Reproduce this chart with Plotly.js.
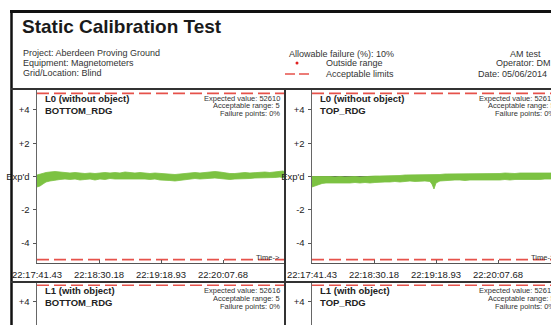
<!DOCTYPE html>
<html>
<head>
<meta charset="utf-8">
<script src="https://cdn.plot.ly/plotly-3.0.1.min.js"></script>
<style>
html,body{margin:0;padding:0;background:#fff;overflow:hidden;}
#chart{width:551px;height:325px;}
</style>
</head>
<body>
<div id="chart"></div>
<script>
// ---------------- DATA ----------------
const timeTicks  = [0, 48.75, 97.5, 146.25, 195];
const timeLabels = ['22:17:41.43','22:18:30.18','22:19:18.93','22:20:07.68','22:20:56.43'];
const yTickVals  = [4, 2, 0, -2, -4];
const yTickText  = ['+4', '+2', "Exp'd", '-2', '-4'];
const acceptableRange = 5;

// L0 BOTTOM_RDG (deviation from expected value, band envelope)
const timeBottom = [0,2.4,4.7,7.1,10.2,14.2,18.1,22,25.9,29.9,33.8,37.7,41.7,45.6,49.5,53.4,57.4,61.3,65.2,69.2,73.1,77,81,84.9,88.8,92.7,96.7,100.6,104.5,108.5,112.4,116.3,120.3,124.2,128.1,132,136,139.9,143.8,147.8,151.7,155.6,159.6,163.5,167.4,171.3,175.3,179.2,183.1,187.1,191,193.4,195];
const bottomHigh = [0.09,0.15,0.21,0.24,0.27,0.30,0.27,0.24,0.21,0.24,0.21,0.18,0.21,0.18,0.21,0.24,0.21,0.24,0.21,0.27,0.24,0.21,0.24,0.21,0.18,0.21,0.18,0.15,0.15,0.12,0.15,0.18,0.21,0.24,0.21,0.24,0.27,0.30,0.27,0.21,0.18,0.18,0.21,0.24,0.21,0.24,0.24,0.27,0.24,0.27,0.33,0.33,0.27];
const bottomLow  = [-0.63,-0.57,-0.45,-0.33,-0.27,-0.21,-0.18,-0.15,-0.18,-0.15,-0.21,-0.18,-0.15,-0.21,-0.15,-0.18,-0.12,-0.15,-0.15,-0.12,-0.15,-0.12,-0.15,-0.15,-0.18,-0.15,-0.21,-0.21,-0.24,-0.27,-0.24,-0.18,-0.15,-0.12,-0.15,-0.12,-0.09,-0.09,-0.12,-0.15,-0.18,-0.15,-0.15,-0.12,-0.12,-0.09,-0.09,-0.09,-0.09,-0.06,-0.03,-0.06,-0.09];

// L0 TOP_RDG
const timeTop = [0,2.4,4.7,7.9,11,14.1,18.1,22,25.9,29.9,33.8,37.7,41.7,45.6,49.5,53.4,57.4,61.3,65.2,69.2,73.1,77,81,84.9,88.8,92.7,94.3,95.9,97.5,100.6,104.5,108.5,112.4,116.3,120.3,124.2,128.1,132,136,139.9,143.8,147.8,151.7,155.6,159.6,163.5,167.4,171.3,175.3,179.2,183.1,187.1,191,195];
const topHigh = [0,0,0.03,0.03,0,0,-0.03,0,-0.03,0,0,-0.03,0,0,0.03,0.03,0.03,0.06,0.06,0.06,0.09,0.09,0.12,0.12,0.12,0.12,0.09,0.09,0.09,0.12,0.15,0.15,0.18,0.18,0.15,0.18,0.18,0.18,0.15,0.15,0.18,0.18,0.21,0.18,0.18,0.21,0.21,0.18,0.18,0.21,0.21,0.21,0.21,0.21];
const topLow  = [-0.63,-0.57,-0.48,-0.42,-0.39,-0.39,-0.42,-0.39,-0.42,-0.39,-0.36,-0.39,-0.36,-0.39,-0.36,-0.33,-0.33,-0.33,-0.30,-0.33,-0.30,-0.27,-0.30,-0.27,-0.27,-0.30,-0.45,-0.75,-0.39,-0.27,-0.24,-0.24,-0.21,-0.21,-0.24,-0.21,-0.21,-0.21,-0.24,-0.24,-0.21,-0.21,-0.18,-0.21,-0.18,-0.18,-0.18,-0.21,-0.18,-0.18,-0.15,-0.15,-0.15,-0.15];

// ---------------- LAYOUT HELPERS ----------------
const W = 551, H = 325;
const px = x => x / W;
const py = y => 1 - y / H;
const FONT = 'Liberation Sans, Arial, sans-serif';
const GREEN = '#7cc242';
const RED = '#e6524b';
const tEnd = timeTicks[timeTicks.length - 1];

function bandTraces(t, lo, hi, xa, ya) {
  return [
    {x: [t[0], tEnd], y: [0, 0], xaxis: xa, yaxis: ya, mode: 'lines',
     line: {color: '#555', width: 1}, hoverinfo: 'skip', showlegend: false},
    {x: t, y: lo, xaxis: xa, yaxis: ya, mode: 'lines',
     line: {color: GREEN, width: 0.8}, hoverinfo: 'skip', showlegend: false},
    {x: t, y: hi, xaxis: xa, yaxis: ya, mode: 'lines', fill: 'tonexty',
     fillcolor: GREEN, line: {color: GREEN, width: 0.8}, hoverinfo: 'skip', showlegend: false}
  ];
}
function limitTraces(xa, ya) {
  return [acceptableRange, -acceptableRange].map(v => ({
    x: [timeTicks[0], tEnd], y: [v, v], xaxis: xa, yaxis: ya, mode: 'lines',
    line: {color: RED, width: 1.6, dash: '12px,5px'}, hoverinfo: 'skip', showlegend: false
  }));
}

const data = [
  ...bandTraces(timeBottom, bottomLow, bottomHigh, 'x', 'y'),
  ...limitTraces('x', 'y'),
  ...bandTraces(timeTop, topLow, topHigh, 'x2', 'y2'),
  ...limitTraces('x2', 'y2'),
  ...limitTraces('x3', 'y3'),
  ...limitTraces('x4', 'y4')
];

function xAxis(dom, anchor, range, show) {
  return {domain: dom, anchor: anchor, range: range, showgrid: false, zeroline: false,
    showline: show, linecolor: '#555', linewidth: 1,
    tickmode: 'array', tickvals: show ? timeTicks.slice(0, 4) : [], ticktext: show ? timeLabels.slice(0, 4) : [],
    ticks: show ? 'inside' : '', ticklen: 3, tickcolor: '#555', ticklabelstandoff: 3,
    showticklabels: show, tickfont: {family: FONT, size: 9.5, color: '#222'}, fixedrange: true};
}
function yAxis(dom, anchor, range) {
  return {domain: dom, anchor: anchor, range: range, showgrid: false, zeroline: false,
    showline: true, linecolor: '#666', linewidth: 1.5,
    tickmode: 'array', tickvals: yTickVals, ticktext: yTickText,
    ticks: 'outside', ticklen: 3, tickcolor: '#555', ticklabelstandoff: 1,
    tickfont: {family: FONT, size: 9.5, color: '#222'}, fixedrange: true};
}
const unitPx = 16.6;
const rightEnd = (W - 312) / 248 * tEnd;
const botLow = 5.2 - (H - 282) / unitPx;

function ann(text, x, y, opts) {
  return Object.assign({text: text, x: px(x), y: py(y), xref: 'paper', yref: 'paper',
    showarrow: false, xanchor: 'left', yanchor: 'middle',
    font: {family: FONT, size: 9, color: '#222'}}, opts || {});
}
const small = {family: FONT, size: 7.5, color: '#333'};
function panelAnns(L, T, level, reading, expected) {
  return [
    ann(level, L + 6, T + 8, {font: {family: FONT, size: 9.5, color: '#222', weight: 'bold'}}),
    ann(reading, L + 6, T + 20, {font: {family: FONT, size: 9.5, color: '#222', weight: 'bold'}}),
    ann('Expected value: ' + expected, L + 245, T + 8, {xanchor: 'right', font: small}),
    ann('Acceptable range: ' + acceptableRange, L + 245, T + 16, {xanchor: 'right', font: small}),
    ann('Failure points: 0%', L + 245, T + 24, {xanchor: 'right', font: small})
  ];
}
const info = {family: FONT, size: 9, color: '#333'};

const annotations = [
  ann('Static Calibration Test', 20, 27, {font: {family: FONT, size: 19, color: '#1a1a1a', weight: 'bold'}}),
  ann('Project: Aberdeen Proving Ground', 21, 53, {font: info}),
  ann('Equipment: Magnetometers', 21, 63, {font: info}),
  ann('Grid/Location: Blind', 21, 73, {font: info}),
  ann('Allowable failure (%): 10%', 287, 54, {font: info}),
  ann('Outside range', 324, 63, {font: info}),
  ann('Acceptable limits', 324, 74, {font: info}),
  ann('AM test', 543, 54, {xanchor: 'right', font: info}),
  ann('Operator: DM', 553, 63, {xanchor: 'right', font: info}),
  ann('Date: 05/06/2014', 549, 74, {xanchor: 'right', font: info}),
  ...panelAnns(37, 90, 'L0 (without object)', 'BOTTOM_RDG', '52610'),
  ...panelAnns(312, 90, 'L0 (without object)', 'TOP_RDG', '52610'),
  ...panelAnns(37, 282, 'L1 (with object)', 'BOTTOM_RDG', '52616'),
  ...panelAnns(312, 282, 'L1 (with object)', 'TOP_RDG', '52616'),
  ann('Time->', 282, 257, {xanchor: 'right', font: {family: FONT, size: 7.5, color: '#333'}}),
  ann('Time->', 557, 257, {xanchor: 'right', font: {family: FONT, size: 7.5, color: '#333'}})
];

const line = (x0, y0, x1, y1, color, width, dash) => ({type: 'line', xref: 'paper', yref: 'paper',
  x0: px(x0), y0: py(y0), x1: px(x1), y1: py(y1), line: {color: color, width: width, dash: dash || 'solid'}});

const shapes = [
  line(10, 11.5, W, 11.5, '#111', 3),
  line(11.5, 10, 11.5, H, '#111', 2.5),
  line(11, 89, W, 89, '#333', 2),
  line(285, 89, 285, H, '#333', 2),
  line(11, 282, W, 282, '#333', 2),
  line(285, 74, 313, 74, RED, 1.6, '10px,4px'),
  {type: 'circle', xref: 'paper', yref: 'paper', x0: px(295.5), x1: px(298.5), y0: py(61.5), y1: py(64.5),
   fillcolor: '#e02020', line: {width: 0}}
];

const layout = {
  width: W, height: H, margin: {l: 0, r: 0, t: 0, b: 0},
  paper_bgcolor: '#fff', plot_bgcolor: 'rgba(0,0,0,0)', showlegend: false,
  xaxis: xAxis([px(37), px(285)], 'y', [0, tEnd], true),
  yaxis: yAxis([py(263), py(90)], 'x', [-5.2, 5.2]),
  xaxis2: xAxis([px(312), 1], 'y2', [0, rightEnd], true),
  yaxis2: yAxis([py(263), py(90)], 'x2', [-5.2, 5.2]),
  xaxis3: xAxis([px(37), px(285)], 'y3', [0, tEnd], false),
  yaxis3: yAxis([0, py(282)], 'x3', [botLow, 5.2]),
  xaxis4: xAxis([px(312), 1], 'y4', [0, rightEnd], false),
  yaxis4: yAxis([0, py(282)], 'x4', [botLow, 5.2]),
  annotations: annotations, shapes: shapes
};

Plotly.newPlot('chart', data, layout, {displayModeBar: false, staticPlot: true});
</script>
</body>
</html>
